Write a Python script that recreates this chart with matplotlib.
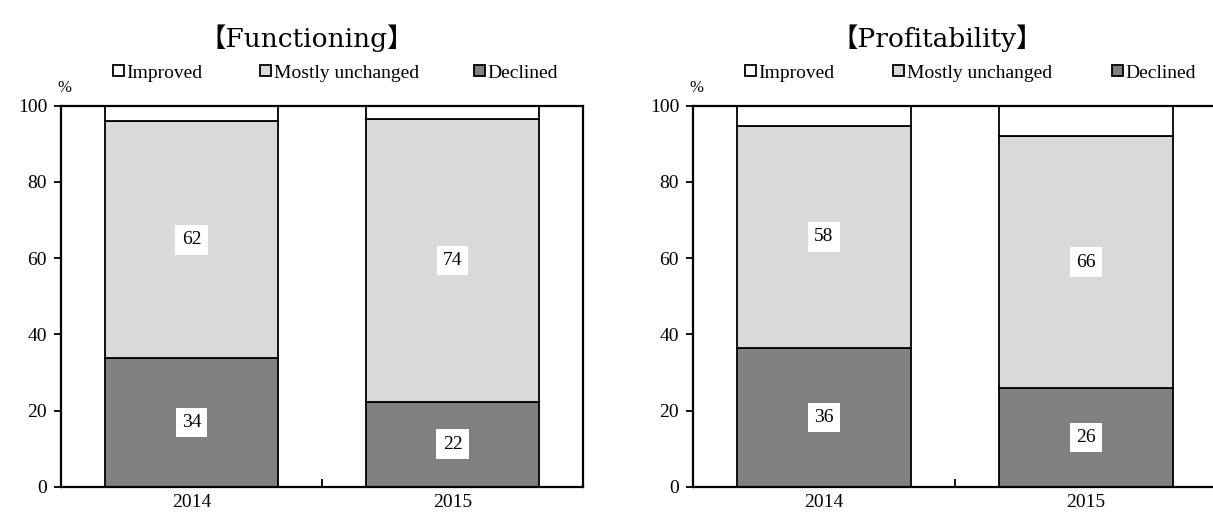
import matplotlib
matplotlib.use("Agg")
import matplotlib.pyplot as plt
from matplotlib.legend import Legend
import numpy as np

years = ["2014", "2015"]
titles = ["Functioning", "Profitability"]
legend_labels = ["Improved", "Mostly unchanged", "Declined"]

func_declined = [33.7, 22.3]
func_unchanged = [62.2, 74.1]
func_improved = [4.1, 3.6]

prof_declined = [36.4, 25.8]
prof_unchanged = [58.3, 66.3]
prof_improved = [5.3, 7.9]

colors = {"Improved": "#ffffff", "Mostly unchanged": "#d9d9d9", "Declined": "#808080"}

plt.rcParams['font.family'] = ['Liberation Serif', 'Noto Sans CJK JP']

W, H = 1213, 516
fig = plt.figure(figsize=(W / 100, H / 100), dpi=100)

# axes geometry in pixels: left, width
ax_px = [(61, 522), (693, 524)]
ax_bottom_px, ax_top_px = 486.7, 105.7
title_x_px = [307, 937]
legend_x_px = [(113, 260, 474), (745, 893, 1112)]
legend_y_px = 73

data = [(func_declined, func_unchanged, func_improved), (prof_declined, prof_unchanged, prof_improved)]

for k in range(2):
    lpx, wpx = ax_px[k]
    ax = fig.add_axes([lpx / W, 1 - ax_bottom_px / H, wpx / W, (ax_bottom_px - ax_top_px) / H])
    dec, unc, imp = data[k]
    x = np.arange(len(years))
    w = 0.665
    b1 = ax.bar(x, dec, w, color=colors["Declined"], edgecolor="black", linewidth=1.3)
    b2 = ax.bar(x, unc, w, bottom=dec, color=colors["Mostly unchanged"], edgecolor="black", linewidth=1.3)
    b3 = ax.bar(x, imp, w, bottom=np.array(dec) + np.array(unc), color=colors["Improved"],
                edgecolor="black", linewidth=1.3)
    for i in range(len(years)):
        ax.text(x[i], dec[i] / 2, f"{round(dec[i])}", ha="center", va="center", fontsize=14,
                bbox=dict(facecolor="white", edgecolor="none", pad=4.5))
        ax.text(x[i], dec[i] + unc[i] / 2, f"{round(unc[i])}", ha="center", va="center", fontsize=14,
                bbox=dict(facecolor="white", edgecolor="none", pad=4.5))
    ax.set_xlim(-0.5, 1.5)
    ax.set_ylim(0, 100)
    ax.set_yticks(range(0, 101, 20))
    ax.tick_params(axis="y", direction="out", length=5, width=1.3, labelsize=14, pad=5)
    ax.set_xticks([0.5])
    ax.set_xticklabels([""])
    ax.tick_params(axis="x", which="major", direction="in", length=6, width=1.3)
    ax.set_xticks(x, minor=True)
    ax.set_xticklabels(years, minor=True)
    ax.tick_params(axis="x", which="minor", length=0, labelsize=14, pad=5)
    for s in ax.spines.values():
        s.set_linewidth(1.6)
        s.set_color("black")
    fig.text((lpx - 4) / W, 1 - 88 / H, "%", fontsize=12, ha="left", va="center")
    fig.text(title_x_px[k] / W, 1 - 38 / H, "【" + titles[k] + "】", fontsize=19,
             family=['DejaVu Serif', 'Noto Sans CJK JP'], ha="center", va="center")
    handles = [b3, b2, b1]
    for j in range(3):
        leg = Legend(ax, [handles[j]], [legend_labels[j]], loc="center left",
                     bbox_to_anchor=(legend_x_px[k][j] / W, 1 - legend_y_px / H),
                     bbox_transform=fig.transFigure, frameon=False, fontsize=14,
                     handlelength=0.55, handleheight=0.55, handletextpad=0.15,
                     borderpad=0, borderaxespad=0)
        ax.add_artist(leg)

fig.savefig("out.png", dpi=100)
